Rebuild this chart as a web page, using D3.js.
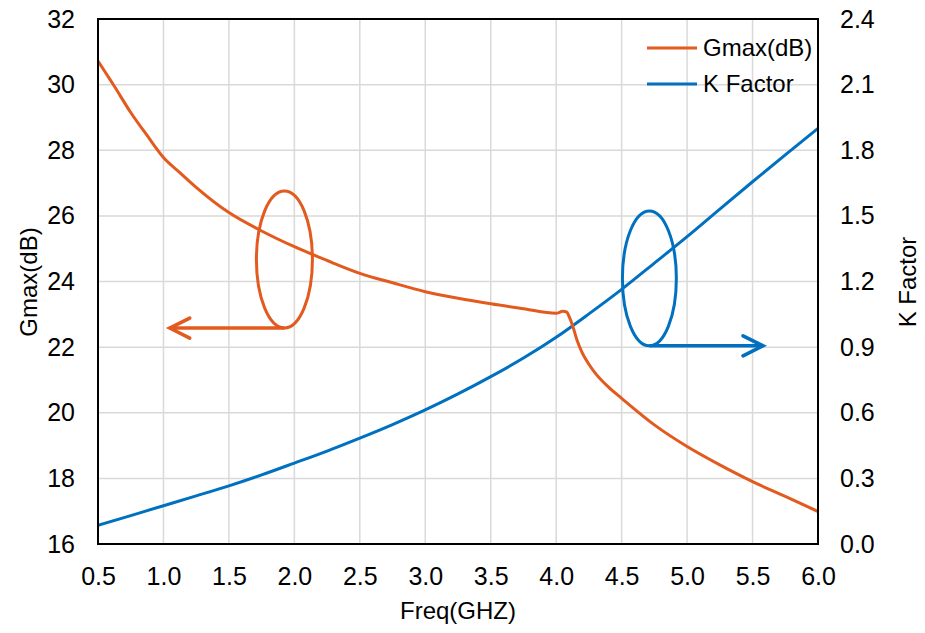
<!DOCTYPE html>
<html>
<head>
<meta charset="utf-8">
<script src="https://cdn.jsdelivr.net/npm/d3@7"></script>
<style>
  body { margin: 0; background: #fff; }
  text { font-family: Arial, "Liberation Sans", sans-serif; fill: #000; }
</style>
</head>
<body>
<div id="chart"></div>
<script>
// Gmax(dB) vs frequency
var freqG = [0.5, 0.625, 0.75, 0.875, 1.0, 1.125, 1.25, 1.5, 1.75, 2.0, 2.25, 2.5, 2.75, 3.0, 3.25, 3.5, 3.75,
             4.0, 4.05, 4.08, 4.1, 4.13, 4.16, 4.2, 4.25, 4.3, 4.4, 4.5, 4.75, 5.0, 5.25, 5.5, 5.75, 6.0];
var gmax = [30.72, 29.95, 29.15, 28.45, 27.78, 27.32, 26.87, 26.1, 25.54, 25.06, 24.64, 24.25, 23.96, 23.69, 23.49, 23.32, 23.17,
            23.03, 23.09, 23.07, 22.92, 22.6, 22.2, 21.82, 21.48, 21.2, 20.78, 20.44, 19.63, 18.97, 18.41, 17.9, 17.45, 16.99];

// K Factor vs frequency
var freqK = [0.5, 0.75, 1.0, 1.25, 1.5, 1.75, 2.0, 2.25, 2.5, 2.75, 3.0, 3.25, 3.5, 3.75,
             4.0, 4.25, 4.5, 4.75, 5.0, 5.25, 5.5, 5.75, 6.0];
var kFactor = [0.085, 0.13, 0.175, 0.22, 0.266, 0.316, 0.37, 0.425, 0.484, 0.546, 0.613, 0.686, 0.765, 0.85,
               0.945, 1.052, 1.164, 1.284, 1.405, 1.531, 1.656, 1.779, 1.9];

var xTicks = [0.5, 1.0, 1.5, 2.0, 2.5, 3.0, 3.5, 4.0, 4.5, 5.0, 5.5, 6.0];
var yLeftTicks = [16, 18, 20, 22, 24, 26, 28, 30, 32];
var yRightTicks = [0, 0.3, 0.6, 0.9, 1.2, 1.5, 1.8, 2.1, 2.4];

// annotation ellipses (data coords) + arrow ends
var gAnno = {cx: 1.924, cy: 24.67, rx: 0.214, ry: 2.085, arrowY: 22.58, arrowTo: 1.048};
var kAnno = {cx: 4.712, cy: 1.214, rx: 0.206, ry: 0.308, arrowY: 0.906, arrowTo: 5.58};

var orange = "#E35A1E";
var blue = "#0070C0";

var W = 925, H = 633;
var margin = {top: 19, right: 107, bottom: 89, left: 98};
var width = W - margin.left - margin.right;
var height = H - margin.top - margin.bottom;

var svg = d3.select("#chart").append("svg")
    .attr("width", W)
    .attr("height", H);

var g = svg.append("g")
    .attr("transform", "translate(" + margin.left + "," + margin.top + ")");

var x = d3.scaleLinear().domain([0.5, 6.0]).range([0, width]);
var yL = d3.scaleLinear().domain([16, 32]).range([height, 0]);
var yR = d3.scaleLinear().domain([0, 2.4]).range([height, 0]);

// grid
g.append("g").selectAll("line").data(xTicks).enter().append("line")
    .attr("x1", d => x(d)).attr("x2", d => x(d))
    .attr("y1", 0).attr("y2", height)
    .style("stroke", "#d9d9d9").style("stroke-width", 1.5);
g.append("g").selectAll("line").data(yLeftTicks).enter().append("line")
    .attr("x1", 0).attr("x2", width)
    .attr("y1", d => yL(d)).attr("y2", d => yL(d))
    .style("stroke", "#d9d9d9").style("stroke-width", 1.5);

// axes
var xAxis = g.append("g")
    .attr("transform", "translate(0," + height + ")")
    .call(d3.axisBottom(x).tickValues(xTicks).tickFormat(d3.format(".1f")).tickSize(0).tickPadding(23));
var leftAxis = g.append("g")
    .call(d3.axisLeft(yL).tickValues(yLeftTicks).tickFormat(d3.format("d")).tickSize(0).tickPadding(23));
var rightAxis = g.append("g")
    .attr("transform", "translate(" + width + ",0)")
    .call(d3.axisRight(yR).tickValues(yRightTicks).tickFormat(d3.format(".1f")).tickSize(0).tickPadding(22));

[xAxis, leftAxis, rightAxis].forEach(function (a) {
    a.select(".domain").remove();
    a.selectAll("text").style("font-size", "25px").style("font-family", "Arial, 'Liberation Sans', sans-serif");
});

// clip to plot area
svg.append("defs").append("clipPath").attr("id", "clip")
    .append("rect").attr("width", width).attr("height", height);

var lineG = d3.line()
    .x(d => x(d[0])).y(d => yL(d[1]))
    .curve(d3.curveMonotoneX);
var lineK = d3.line()
    .x(d => x(d[0])).y(d => yR(d[1]))
    .curve(d3.curveMonotoneX);

var plot = g.append("g").attr("clip-path", "url(#clip)");

plot.append("path")
    .datum(freqK.map((f, i) => [f, kFactor[i]]))
    .attr("d", lineK)
    .style("fill", "none").style("stroke", blue).style("stroke-width", 3);

plot.append("path")
    .datum(freqG.map((f, i) => [f, gmax[i]]))
    .attr("d", lineG)
    .style("fill", "none").style("stroke", orange).style("stroke-width", 3);

// frame
g.append("rect")
    .attr("width", width).attr("height", height)
    .style("fill", "none").style("stroke", "#000").style("stroke-width", 2);

// annotations
function drawAnno(a, yScale, color, dir) {
    var cx = x(a.cx), cy = yScale(a.cy);
    var rx = x(a.cx + a.rx) - cx, ry = cy - yScale(a.cy + a.ry);
    g.append("ellipse")
        .attr("cx", cx).attr("cy", cy).attr("rx", rx).attr("ry", ry)
        .style("fill", "none").style("stroke", color).style("stroke-width", 3);
    var ay = yScale(a.arrowY), tip = x(a.arrowTo);
    g.append("line")
        .attr("x1", cx).attr("y1", ay).attr("x2", tip).attr("y2", ay)
        .style("stroke", color).style("stroke-width", 3.5);
    g.append("polyline")
        .attr("points", [[tip - dir * 20, ay - 10], [tip, ay], [tip - dir * 20, ay + 10]].join(" "))
        .style("fill", "none").style("stroke", color).style("stroke-width", 3.5)
        .style("stroke-linecap", "round").style("stroke-linejoin", "miter");
}
drawAnno(gAnno, yL, orange, -1);
drawAnno(kAnno, yR, blue, 1);

// legend
var legend = [{name: "Gmax(dB)", color: orange, y: 48}, {name: "K Factor", color: blue, y: 84}];
legend.forEach(function (l) {
    svg.append("line")
        .attr("x1", 647).attr("x2", 697).attr("y1", l.y).attr("y2", l.y)
        .style("stroke", l.color).style("stroke-width", 3);
    svg.append("text")
        .attr("x", 703).attr("y", l.y).attr("dy", "0.35em")
        .style("font-size", "24px")
        .text(l.name);
});

// axis titles
svg.append("text")
    .attr("x", margin.left + width / 2).attr("y", 619)
    .attr("text-anchor", "middle")
    .style("font-size", "24px")
    .text("Freq(GHZ)");
svg.append("text")
    .attr("transform", "translate(37,282) rotate(-90)")
    .attr("text-anchor", "middle")
    .style("font-size", "24px")
    .text("Gmax(dB)");
svg.append("text")
    .attr("transform", "translate(916,282) rotate(-90)")
    .attr("text-anchor", "middle")
    .style("font-size", "24px")
    .text("K Factor");
</script>
</body>
</html>
